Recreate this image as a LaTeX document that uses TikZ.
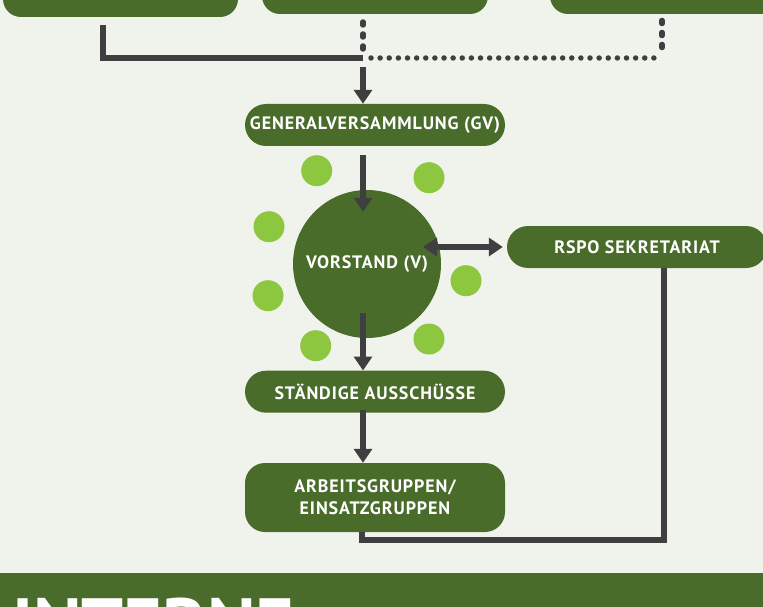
\documentclass[tikz,border=0pt]{standalone}
\usepackage{fontspec}
\setmainfont{PT Sans}
\newfontfamily\boxfont[LetterSpace=5]{PT Sans}
\usetikzlibrary{arrows.meta,calc}
\definecolor{bg}{HTML}{F0F3EC}
\definecolor{dkg}{HTML}{496C2B}
\definecolor{ltg}{HTML}{8DC63F}
\definecolor{arr}{HTML}{3F3F41}
\begin{document}
\begin{tikzpicture}[x=1pt,y=-1pt,
  boxtext/.style={text=white, font=\boxfont\fontsize{18}{22}\selectfont\bfseries},
  box/.style={fill=dkg, boxtext, rounded corners=21pt, minimum width=260pt, minimum height=42pt, inner sep=0pt, align=center},
  topbox/.style={fill=dkg, rounded corners=18pt, inner sep=0pt, minimum height=60pt},
  conn/.style={draw=arr, line width=5.5pt},
  arw/.style={conn, -{Triangle[width=18pt,length=14pt]}},
  darw/.style={conn, {Triangle[width=18pt,length=14pt]}-{Triangle[width=18pt,length=14pt]}},
  dotline/.style={draw=arr, line width=5.5pt, line cap=round},
  bubble/.style={fill=ltg, circle, minimum size=31pt, inner sep=0pt},
]
\useasboundingbox (0,0) rectangle (763,607);
\clip (0,0) rectangle (763,607);
\fill[bg] (0,0) rectangle (763,607);

% top boxes (cut off)
\node[topbox, minimum width=235pt] (t1) at (120.5,-13) {};
\node[topbox, minimum width=226pt] (t2) at (375,-16) {};
\node[topbox, minimum width=240pt] (t3) at (670,-16) {};

% top connectors
\coordinate (j) at (363,58);
\coordinate (l1) at (103,25);
\coordinate (d1) at (363,22);
\coordinate (d2) at (662,20.5);
\coordinate (dc) at (662,58);
\coordinate (dh) at (371,58);
\draw[conn] (l1) |- (j);
\draw[dotline, dash pattern=on 3pt off 9pt] (d1) -- ($(d1)+(0,30)$);
\draw[dotline, dash pattern=on 3pt off 9pt] (d2) -- ($(d2)+(0,30)$);
\draw[dotline, dash pattern=on 0pt off 9.125pt] (dh) -- (dc);

% main nodes
\node[box] (GV) at (375,125) {GENERALVERSAMMLUNG (GV)};
\node[circle, fill=dkg, minimum size=148pt, inner sep=0pt, boxtext] (V) at (367,264) {VORSTAND (V)};
\node[box] (R) at (637,247) {RSPO SEKRETARIAT};
\node[box] (SA) at (375,391.7) {STÄNDIGE AUSSCHÜSSE};
\node[box, rounded corners=20pt, minimum height=69pt] (AG) at (375,497.5) {ARBEITSGRUPPEN/\\EINSATZGRUPPEN};

% bubbles
\node[bubble] (b1) at (316.7,170.7) {};
\node[bubble] (b2) at (429,177.7) {};
\node[bubble] (b3) at (269,226.7) {};
\node[bubble] (b4) at (466,280.7) {};
\node[bubble] (b5) at (268,295.7) {};
\node[bubble] (b6) at (315.7,345.7) {};
\node[bubble] (b7) at (429,339) {};

% arrows
\draw[arw] ($(j)+(0,9)$) -- (j |- GV.north);
\draw[arw] ($(GV.south -| j)+(0,9)$) -- ($(V.north -| j)+(0,22)$);
\draw[darw] ($(V.center)+(56,-17)$) -- ($(R.west)+(-4,0)$);
\draw[arw] ($(V.south -| j)+(0,-25)$) -- (SA.north -| j);
\draw[arw] ($(SA.south -| j)+(0,-3)$) -- (AG.north -| j);
\coordinate (c) at (664,540);
\draw[conn] (R.south -| c) -- (c) -| ($(AG.south -| j)+(-1,0)$);

% bottom band
\fill[dkg] (0,573) rectangle (763,607);
\node[anchor=base west, text=white, inner sep=0pt, font=\fontsize{74}{74}\selectfont\bfseries] (title) at (12,650) {INTERNE};
\end{tikzpicture}
\end{document}
